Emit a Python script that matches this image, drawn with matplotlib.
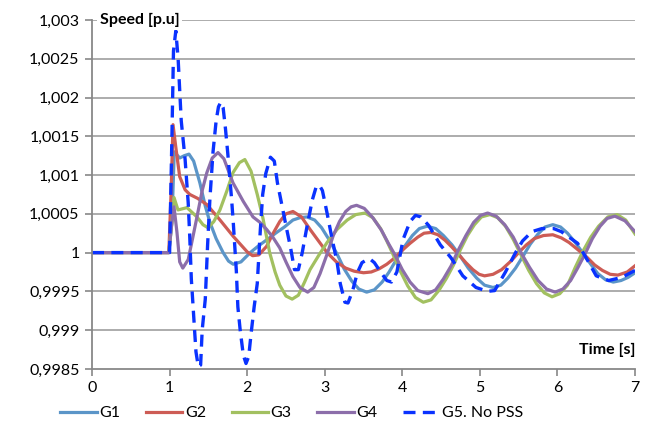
import matplotlib
matplotlib.use('Agg')
import matplotlib.pyplot as plt

# time [s] / speed [p.u]
t_g1 = [0, 0.99, 1.03, 1.06, 1.13, 1.19, 1.25, 1.31, 1.39, 1.46, 1.52, 1.60, 1.69, 1.76, 1.82, 1.92, 2.04,
        2.15, 2.26, 2.38, 2.48, 2.59, 2.68, 2.77, 2.87, 2.96, 3.06, 3.16, 3.25, 3.35, 3.44, 3.54, 3.64, 3.74,
        3.83, 3.93, 4.03, 4.13, 4.22, 4.32, 4.43, 4.53, 4.64, 4.75, 4.85, 4.96, 5.06, 5.17, 5.27, 5.36, 5.46,
        5.56, 5.65, 5.75, 5.84, 5.94, 6.04, 6.13, 6.23, 6.33, 6.43, 6.52, 6.62, 6.72, 6.82, 6.91, 7.0]
g1 = [1.0, 1.0, 1.0004, 1.0013, 1.00122, 1.00125, 1.00127, 1.00118, 1.0009, 1.0006, 1.00039, 1.00018, 1.0,
      0.99989, 0.99985, 0.99988, 1.0, 1.00009, 1.00017, 1.00026, 1.00033, 1.00042, 1.00045, 1.00046, 1.00042,
      1.00032, 1.00016, 0.99998, 0.99979, 0.99963, 0.99953, 0.99949, 0.99952, 0.99962, 0.99975, 0.99992,
      1.00008, 1.00022, 1.00031, 1.00034, 1.00031, 1.00022, 1.0001, 0.99995, 0.9998, 0.99967, 0.99958,
      0.99955, 0.99958, 0.99967, 0.9998, 0.99996, 1.00011, 1.00024, 1.00033, 1.00036, 1.00033, 1.00025,
      1.00013, 0.99999, 0.99985, 0.99973, 0.99965, 0.99962, 0.99964, 0.99968, 0.99974]

t_g2 = [0, 0.99, 1.02, 1.044, 1.08, 1.13, 1.20, 1.26, 1.36, 1.48, 1.65, 1.82, 2.0, 2.07, 2.15, 2.25, 2.33,
        2.42, 2.50, 2.59, 2.70, 2.81, 2.92, 3.03, 3.15, 3.27, 3.38, 3.50, 3.60, 3.70, 3.80, 3.90, 4.0, 4.1,
        4.2, 4.28, 4.37, 4.46, 4.55, 4.64, 4.73, 4.82, 4.91, 4.99, 5.06, 5.17, 5.28, 5.40, 5.50, 5.60, 5.70,
        5.82, 5.94, 6.05, 6.15, 6.26, 6.38, 6.48, 6.58, 6.68, 6.78, 6.90, 7.0]
g2 = [1.0, 1.0, 1.0008, 1.00165, 1.00136, 1.00098, 1.00081, 1.00075, 1.0007, 1.00062, 1.00042, 1.00021,
      1.00001, 0.99996, 0.99997, 1.00008, 1.00024, 1.0004, 1.0005, 1.00053, 1.00046, 1.0003, 1.00015, 1.0,
      0.99988, 0.9998, 0.99976, 0.99974, 0.99975, 0.99979, 0.99985, 0.99993, 1.00003, 1.00012, 1.0002,
      1.00025, 1.00026, 1.00023, 1.00016, 1.00007, 0.99997, 0.99987, 0.99978, 0.99972, 0.9997, 0.99972,
      0.99978, 0.99989, 1.0, 1.0001, 1.00018, 1.00022, 1.00023, 1.00019, 1.00013, 1.00004, 0.99994, 0.99984,
      0.99977, 0.99972, 0.99971, 0.99975, 0.99983]

t_g3 = [0, 0.99, 1.03, 1.057, 1.108, 1.224, 1.353, 1.43, 1.495, 1.57, 1.649, 1.74, 1.817, 1.90, 1.97,
        2.05, 2.13, 2.20, 2.29, 2.36, 2.42, 2.50, 2.58, 2.66, 2.74, 2.81, 2.92, 3.03, 3.16, 3.29, 3.40, 3.52,
        3.62, 3.72, 3.80, 3.87, 3.97, 4.07, 4.17, 4.27, 4.37, 4.47, 4.57, 4.66, 4.75, 4.84, 4.93, 5.02, 5.13,
        5.23, 5.33, 5.43, 5.53, 5.63, 5.73, 5.83, 5.93, 6.03, 6.13, 6.23, 6.33, 6.43, 6.53, 6.65, 6.77, 6.88,
        7.0]
g3 = [1.0, 1.0, 1.0004, 1.00071, 1.00055, 1.00058, 1.00046, 1.00036, 1.00032, 1.0004, 1.00055, 1.0008,
      1.00103, 1.00116, 1.0012, 1.00105, 1.00075, 1.00046, 1.0, 0.99975, 0.99958, 0.99944, 0.9994, 0.99945,
      0.99962, 0.99978, 0.99996, 1.00013, 1.0003, 1.00042, 1.00049, 1.00051, 1.00045, 1.00031, 1.00015, 1.0,
      0.99977, 0.99957, 0.99942, 0.99936, 0.99939, 0.99951, 0.99967, 0.99984, 1.00004, 1.00022, 1.00036,
      1.00046, 1.00049, 1.00045, 1.00034, 1.00017, 0.99997, 0.99977, 0.9996, 0.99948, 0.99943, 0.99947,
      0.99958, 0.99981, 1.00002, 1.0002, 1.00034, 1.00046, 1.00049, 1.00042, 1.00024]

t_g4 = [0, 0.99, 1.03, 1.057, 1.095, 1.13, 1.17, 1.24, 1.30, 1.353, 1.42, 1.48, 1.55, 1.624, 1.70, 1.76,
        1.817, 1.95, 2.075, 2.165, 2.25, 2.33, 2.42, 2.50, 2.59, 2.68, 2.78, 2.86, 2.94, 3.03, 3.11, 3.19,
        3.27, 3.34, 3.41, 3.51, 3.62, 3.73, 3.82, 3.90, 4.0, 4.1, 4.2, 4.33, 4.43, 4.53, 4.63, 4.72, 4.82,
        4.92, 5.01, 5.10, 5.21, 5.32, 5.43, 5.53, 5.64, 5.75, 5.86, 5.97, 6.07, 6.17, 6.26, 6.36, 6.45, 6.55,
        6.64, 6.74, 6.87, 7.0]
g4 = [1.0, 1.0, 1.0004, 1.00059, 1.00026, 0.99988, 0.9998, 0.99991, 1.0002, 1.00046, 1.0008, 1.00103,
      1.00122, 1.00129, 1.00121, 1.00105, 1.0009, 1.00066, 1.00046, 1.00039, 1.0003, 1.0002, 1.00006, 0.99988,
      0.99969, 0.99955, 0.99949, 0.99955, 0.99973, 0.99998, 1.00022, 1.0004, 1.00053, 1.00059, 1.00061,
      1.00057, 1.00045, 1.00029, 1.00012, 0.99998, 0.99978, 0.99962, 0.99951, 0.99947, 0.99952, 0.99966,
      0.99983, 1.00003, 1.00022, 1.00039, 1.00048, 1.00051, 1.00047, 1.00036, 1.0002, 1.0, 0.99981, 0.99964,
      0.99953, 0.99949, 0.99953, 0.99964, 0.9998, 0.99999, 1.00018, 1.00034, 1.00044, 1.00047, 1.00041,
      1.00027]

t_g5 = [0, 1.0, 1.03, 1.05, 1.08, 1.11, 1.15, 1.20, 1.24, 1.26, 1.28, 1.30, 1.32, 1.34, 1.37, 1.40, 1.42,
        1.46, 1.49, 1.52, 1.56, 1.60, 1.63, 1.66, 1.69, 1.72, 1.75, 1.80, 1.82, 1.86, 1.88, 1.91, 1.95, 1.985,
        2.02, 2.05, 2.09, 2.13, 2.17, 2.20, 2.24, 2.30, 2.35, 2.39, 2.45, 2.51, 2.56, 2.61, 2.66, 2.71, 2.77,
        2.84, 2.89, 2.93, 2.97, 3.03, 3.09, 3.16, 3.20, 3.26, 3.30, 3.36, 3.42, 3.48, 3.53, 3.58, 3.64, 3.72,
        3.80, 3.86, 3.93, 4.01, 4.10, 4.17, 4.24, 4.34, 4.49, 4.63, 4.78, 4.95, 5.10, 5.19, 5.33, 5.46, 5.55,
        5.67, 5.80, 5.95, 6.05, 6.26, 6.40, 6.50, 6.66, 6.83, 7.0]
g5 = [1.0, 1.0, 1.0015, 1.0026, 1.00286, 1.0025, 1.0017, 1.0012, 1.00064, 1.0002, 0.99966, 0.99935,
      0.99903, 0.99872, 0.99853, 0.99855, 0.9990, 0.9994, 1.0001, 1.0007, 1.0013, 1.0017, 1.00188, 1.00194,
      1.00187, 1.0016, 1.00128, 1.00068, 1.0004, 0.99977, 0.9993, 0.9990, 0.99868, 0.99857, 0.99866,
      0.99895, 0.9993, 0.9996, 1.0003, 1.00075, 1.00102, 1.00123, 1.00118, 1.0009, 1.0006, 1.0003, 1.00006,
      0.99978, 0.99978, 1.0, 1.00033, 1.00068, 1.00085, 1.00087, 1.0008, 1.00051, 1.0002, 0.99987, 0.9996,
      0.99936, 0.99935, 0.99951, 0.99974, 0.99987, 0.9999, 0.99992, 0.99987, 0.99975, 0.99964, 0.99962,
      0.99975, 1.00017, 1.0004, 1.00048, 1.00046, 1.00035, 1.0001, 0.99993, 0.9997, 0.99955, 0.9995, 0.99951,
      0.99975, 1.0, 1.00015, 1.00027, 1.00031, 1.00031, 1.00027, 1.00012, 0.99988, 0.9997, 0.99964, 0.99968,
      0.99977]

y_ticks = [0.9985, 0.999, 0.9995, 1.0, 1.0005, 1.001, 1.0015, 1.002, 1.0025, 1.003]
y_labels = ['0,9985', '0,999', '0,9995', '1', '1,0005', '1,001', '1,0015', '1,002', '1,0025', '1,003']
x_ticks = [0, 1, 2, 3, 4, 5, 6, 7]

plt.rcParams['font.family'] = ['Lato', 'DejaVu Sans']

fig = plt.figure(figsize=(6.55, 4.25), dpi=100)
ax = fig.add_axes([0.1405, 0.132, 0.829, 0.821])

for y in y_ticks[1:]:
    ax.axhline(y, color='#a6a6a6', lw=1.3, zorder=0)

lw = 2.3
ax.plot(t_g1, g1, color='#5b95c8', lw=lw, label='G1', solid_joinstyle='round')
ax.plot(t_g2, g2, color='#cd5c55', lw=lw, label='G2', solid_joinstyle='round')
ax.plot(t_g3, g3, color='#a2c060', lw=lw, label='G3', solid_joinstyle='round')
ax.plot(t_g4, g4, color='#8c6eaa', lw=lw, label='G4', solid_joinstyle='round')
ax.plot(t_g5, g5, color='#0a32ff', lw=2.4, dashes=(3.6, 2.2), label='G5. No PSS')

ax.set_xlim(0, 7)
ax.set_ylim(0.9985, 1.003)
ax.set_xticks(x_ticks)
ax.set_yticks(y_ticks)
ax.set_yticklabels(y_labels)
ax.tick_params(axis='both', direction='out', length=5, width=1.2, color='#888888', labelsize=11.5, pad=4)
for s in ['top', 'right']:
    ax.spines[s].set_visible(False)
for s in ['left', 'bottom']:
    ax.spines[s].set_color('#888888')
    ax.spines[s].set_linewidth(1.3)

ax.text(0.1, 1.003, 'Speed [p.u]', fontsize=11.5, fontweight='bold', va='center', ha='left',
        bbox=dict(facecolor='white', edgecolor='none', pad=2), zorder=5)
ax.text(7.0, 0.99875, 'Time [s]', fontsize=11.5, fontweight='bold', va='center', ha='right')

fig.legend(loc='center left', bbox_to_anchor=(60 / 655, 1 - 413 / 425), ncol=5, frameon=False,
           fontsize=11.5, handlelength=2.3, columnspacing=1.6, handletextpad=0.15, borderaxespad=0,
           borderpad=0)

fig.savefig('out.png', dpi=100)
